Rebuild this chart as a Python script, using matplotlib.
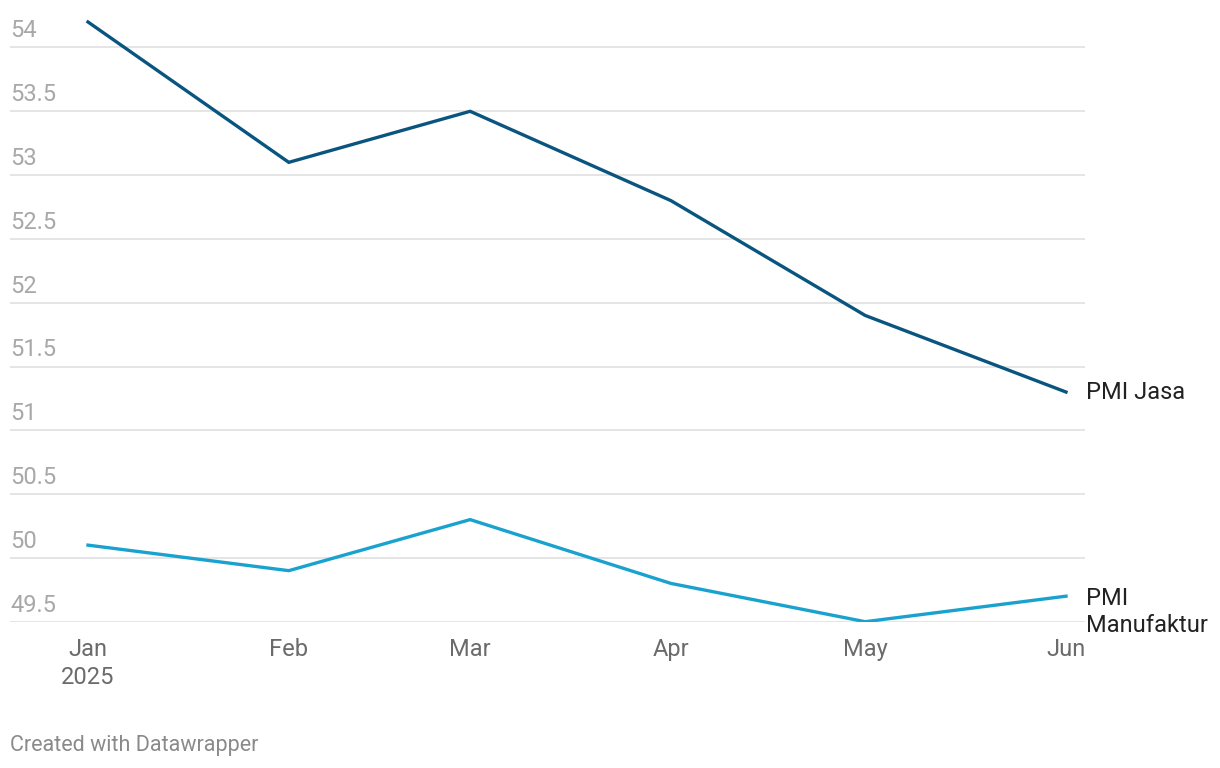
import matplotlib
matplotlib.use("Agg")
import matplotlib.pyplot as plt
import matplotlib.dates as mdates
import datetime as dt

plt.rcParams['font.family'] = ['Roboto', 'DejaVu Sans']

months = ["2025-01-01", "2025-02-01", "2025-03-01", "2025-04-01", "2025-05-01", "2025-06-01"]
jasa = [54.2, 53.1, 53.5, 52.8, 51.9, 51.3]
manufaktur = [50.1, 49.9, 50.3, 49.8, 49.5, 49.7]
yticks = [49.5, 50, 50.5, 51, 51.5, 52, 52.5, 53, 53.5, 54]
xlabels = ["Jan\n2025", "Feb", "Mar", "Apr", "May", "Jun"]

dates = [dt.datetime.strptime(m, "%Y-%m-%d") for m in months]
W, H = 1220, 768
fig = plt.figure(figsize=(W / 100, H / 100), dpi=100)

left_px, right_px = 10, 1085
bottom_px, top_px = 621.7, 9.2
ax = fig.add_axes([left_px / W, 1 - bottom_px / H, (right_px - left_px) / W, (bottom_px - top_px) / H])

c_jasa = "#0a5580"
c_man = "#1aa2cf"
ax.plot(dates, jasa, color=c_jasa, lw=2.4, solid_joinstyle='miter', zorder=3)
ax.plot(dates, manufaktur, color=c_man, lw=2.4, solid_joinstyle='miter', zorder=3)

x0 = mdates.date2num(dates[0])
x1 = mdates.date2num(dates[-1])
ppd = (1066 - 88) / (x1 - x0)
ax.set_xlim(x0 - (88 - left_px) / ppd, x1 + (right_px - 1066) / ppd)
ax.set_ylim(49.5, 49.5 + (bottom_px - top_px) / 127.6 * 1.0)

for s in ax.spines.values():
    s.set_visible(False)
ax.set_yticks(yticks)
ax.set_yticklabels([])
ax.tick_params(left=False, bottom=False)
ax.grid(axis='y', color="#e0e0e0", lw=1.2)
ax.set_axisbelow(True)
ax.set_xticks(dates)
ax.set_xticklabels([])

for v in yticks:
    lab = f"{v:g}"
    ax.annotate(lab, xy=(0, v), xycoords=('axes fraction', 'data'), xytext=(0, 5),
                textcoords='offset pixels', ha='left', va='bottom', fontsize=17, color="#a8a8a8")

for d, lab in zip(dates, xlabels):
    ax.annotate(lab, xy=(d, 49.5), xycoords='data', xytext=(0, -16), textcoords='offset pixels',
                ha='center', va='top', fontsize=17, color="#6b6b6b", linespacing=1.3)

ax.annotate("PMI Jasa", xy=(dates[-1], jasa[-1]), xytext=(20, 0), textcoords='offset pixels',
            ha='left', va='center', fontsize=17, color="#222222")
ax.annotate("PMI\nManufaktur", xy=(dates[-1], manufaktur[-1]), xytext=(20, 9), textcoords='offset pixels',
            ha='left', va='top', fontsize=17, color="#222222", linespacing=1.2)

fig.text(10 / W, 1 - 745 / H, "Created with Datawrapper", ha='left', va='center', fontsize=15.5, color="#8a8a8a")

fig.savefig("out.png", dpi=100)
